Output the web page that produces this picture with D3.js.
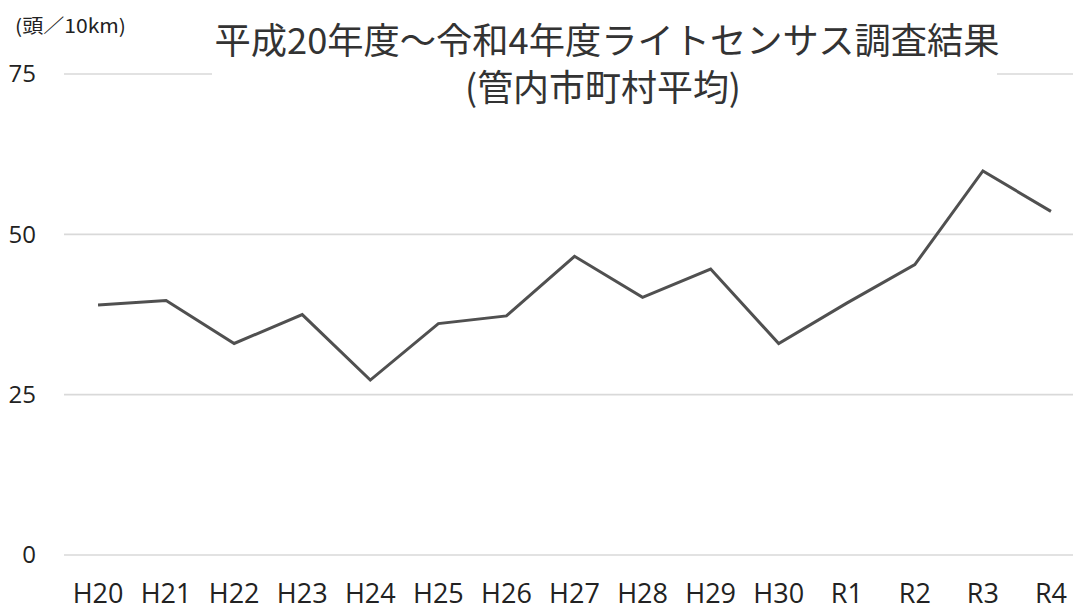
<!DOCTYPE html>
<html>
<head>
<meta charset="utf-8">
<script src="https://cdn.jsdelivr.net/npm/d3@7"></script>
<style>
  html, body { margin: 0; padding: 0; background: #fff; }
  svg { display: block; }
  .tick text { font-family: "Open Sans", "Noto Sans", sans-serif; fill: #222; }
</style>
</head>
<body>
<svg id="chart" width="1073" height="613"></svg>
<script>
// Survey years (Heisei 20 – Reiwa 4)
const categories = ["H20","H21","H22","H23","H24","H25","H26","H27","H28","H29","H30","R1","R2","R3","R4"];
// Average deer sightings per 10 km, municipalities in the district
const values = [38.9, 39.6, 32.9, 37.4, 27.2, 36.0, 37.2, 46.5, 40.1, 44.5, 32.9, 39.2, 45.2, 59.8, 53.5];
const yTicks = [0, 25, 50, 75];
const titleLines = ["平成20年度～令和4年度ライトセンサス調査結果", "(管内市町村平均)"];
const unitLabel = "(頭／10km)";

const svg = d3.select("#chart");
const W = 1073, H = 613;
const plot = { left: 64, right: 1085, top: 73.5, bottom: 554.5 };

const x = d3.scaleBand().domain(categories).range([plot.left, plot.right]).paddingInner(0).paddingOuter(0);
const y = d3.scaleLinear().domain([0, 75]).range([plot.bottom, plot.top]);

svg.append("rect").attr("width", W).attr("height", H).attr("fill", "#fff");

// Horizontal gridlines with value labels
const yAxis = svg.append("g")
  .attr("transform", `translate(${plot.left},0)`)
  .call(d3.axisLeft(y).tickValues(yTicks).tickFormat(d3.format("d"))
    .tickSize(-(plot.right - plot.left)).tickPadding(28));
yAxis.select(".domain").remove();
yAxis.selectAll(".tick line").attr("stroke", "#d9d9d9").attr("stroke-width", 1.6);
yAxis.selectAll(".tick text").attr("font-size", 24).attr("dy", "0.35em");

// Category labels
const xAxis = svg.append("g")
  .attr("transform", `translate(0,${plot.bottom})`)
  .call(d3.axisBottom(x).tickSize(0).tickPadding(29.5));
xAxis.select(".domain").remove();
xAxis.selectAll(".tick text").attr("font-size", 27);

// Series line
const line = d3.line()
  .x((d, i) => x(categories[i]) + x.bandwidth() / 2)
  .y(d => y(d));
svg.append("path")
  .datum(values)
  .attr("fill", "none")
  .attr("stroke", "#505050")
  .attr("stroke-width", 3)
  .attr("stroke-linejoin", "miter")
  .attr("d", line);

// Title block on a white backing
svg.append("rect")
  .attr("x", 212).attr("y", 8).attr("width", 785).attr("height", 104)
  .attr("fill", "#fff");
const title = svg.append("g")
  .attr("font-family", "'Noto Sans CJK JP', sans-serif")
  .attr("fill", "#333")
  .attr("text-anchor", "middle");
title.append("text").attr("x", 607).attr("y", 54).attr("font-size", 36)
  .attr("textLength", 785).attr("lengthAdjust", "spacingAndGlyphs")
  .text(titleLines[0]);
title.append("text").attr("x", 603).attr("y", 101).attr("font-size", 36)
  .attr("textLength", 276).attr("lengthAdjust", "spacingAndGlyphs")
  .text(titleLines[1]);

// Unit label
svg.append("text")
  .attr("x", 15).attr("y", 33)
  .attr("font-family", "'Noto Sans CJK JP', sans-serif")
  .attr("font-size", 19)
  .attr("fill", "#222")
  .attr("textLength", 111).attr("lengthAdjust", "spacingAndGlyphs")
  .text(unitLabel);
</script>
</body>
</html>
